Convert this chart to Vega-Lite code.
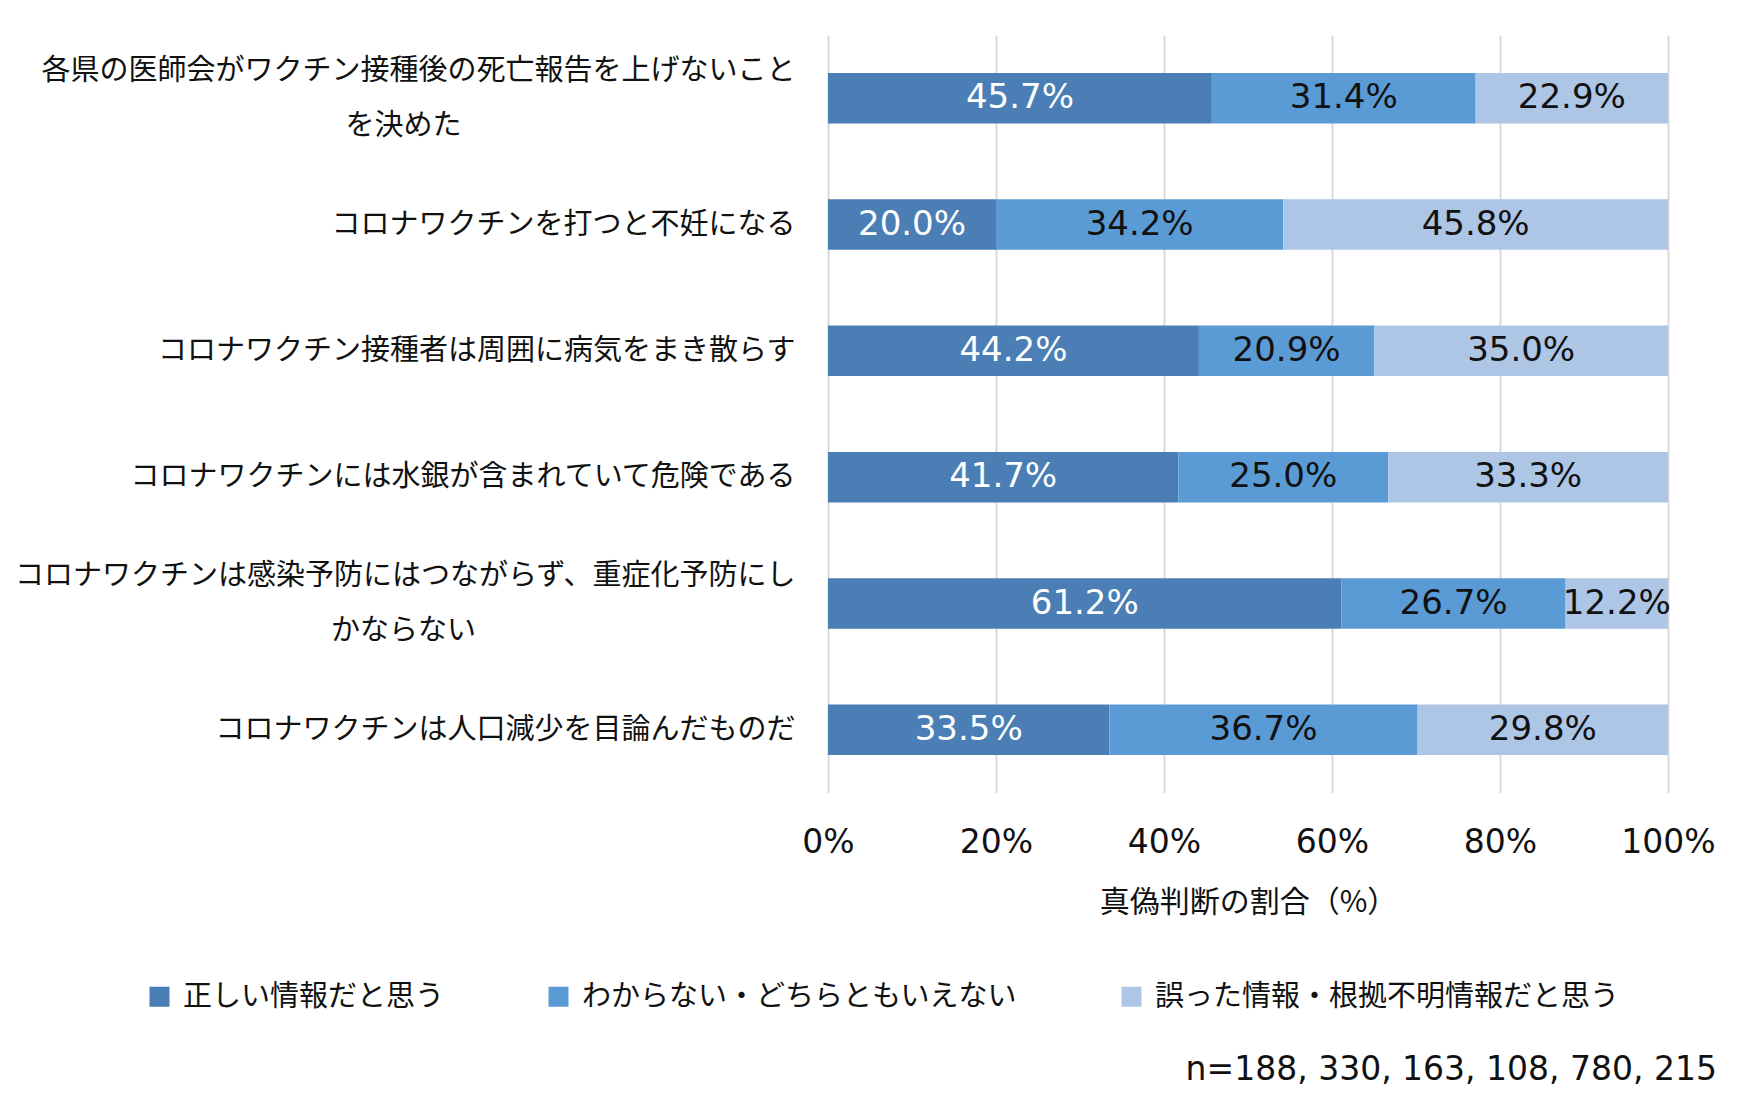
{
  "$schema": "https://vega.github.io/schema/vega-lite/v6.json",
  "width": 840,
  "height": 758,
  "autosize": {"type": "none"},
  "padding": {"left": 828, "top": 35, "right": 72, "bottom": 314},
  "background": "white",
  "config": {
    "view": {"stroke": null},
    "axis": {"labelColor": "#111", "titleColor": "#111"}
  },
  "title": {
    "text": "n=188, 330, 163, 108, 780, 215",
    "orient": "bottom",
    "anchor": "end",
    "frame": "group",
    "font": "DejaVu Sans",
    "fontSize": 33,
    "fontWeight": "normal",
    "color": "#111",
    "dx": 49,
    "offset": 42
  },
  "data": {
    "values": [
      {"q": "各県の医師会がワクチン接種後の死亡報告を上げないこと|を決めた", "cat": "正しい情報だと思う", "k": 1, "v": 0.457},
      {"q": "各県の医師会がワクチン接種後の死亡報告を上げないこと|を決めた", "cat": "わからない・どちらともいえない", "k": 2, "v": 0.314},
      {"q": "各県の医師会がワクチン接種後の死亡報告を上げないこと|を決めた", "cat": "誤った情報・根拠不明情報だと思う", "k": 3, "v": 0.229},
      {"q": "コロナワクチンを打つと不妊になる", "cat": "正しい情報だと思う", "k": 1, "v": 0.200},
      {"q": "コロナワクチンを打つと不妊になる", "cat": "わからない・どちらともいえない", "k": 2, "v": 0.342},
      {"q": "コロナワクチンを打つと不妊になる", "cat": "誤った情報・根拠不明情報だと思う", "k": 3, "v": 0.458},
      {"q": "コロナワクチン接種者は周囲に病気をまき散らす", "cat": "正しい情報だと思う", "k": 1, "v": 0.442},
      {"q": "コロナワクチン接種者は周囲に病気をまき散らす", "cat": "わからない・どちらともいえない", "k": 2, "v": 0.209},
      {"q": "コロナワクチン接種者は周囲に病気をまき散らす", "cat": "誤った情報・根拠不明情報だと思う", "k": 3, "v": 0.350},
      {"q": "コロナワクチンには水銀が含まれていて危険である", "cat": "正しい情報だと思う", "k": 1, "v": 0.417},
      {"q": "コロナワクチンには水銀が含まれていて危険である", "cat": "わからない・どちらともいえない", "k": 2, "v": 0.250},
      {"q": "コロナワクチンには水銀が含まれていて危険である", "cat": "誤った情報・根拠不明情報だと思う", "k": 3, "v": 0.333},
      {"q": "コロナワクチンは感染予防にはつながらず、重症化予防にし|かならない", "cat": "正しい情報だと思う", "k": 1, "v": 0.612},
      {"q": "コロナワクチンは感染予防にはつながらず、重症化予防にし|かならない", "cat": "わからない・どちらともいえない", "k": 2, "v": 0.267},
      {"q": "コロナワクチンは感染予防にはつながらず、重症化予防にし|かならない", "cat": "誤った情報・根拠不明情報だと思う", "k": 3, "v": 0.122},
      {"q": "コロナワクチンは人口減少を目論んだものだ", "cat": "正しい情報だと思う", "k": 1, "v": 0.335},
      {"q": "コロナワクチンは人口減少を目論んだものだ", "cat": "わからない・どちらともいえない", "k": 2, "v": 0.367},
      {"q": "コロナワクチンは人口減少を目論んだものだ", "cat": "誤った情報・根拠不明情報だと思う", "k": 3, "v": 0.298}
    ]
  },
  "layer": [
    {
      "mark": {"type": "bar"},
      "encoding": {
        "y": {
          "field": "q",
          "type": "nominal",
          "sort": null,
          "scale": {"paddingInner": 0.6, "paddingOuter": 0.3},
          "axis": {
            "title": null,
            "orient": "left",
            "domain": false,
            "ticks": false,
            "labelFont": "Noto Sans CJK JP",
            "labelFontSize": 29,
            "labelLimit": 0,
            "labelPadding": 33,
            "labelAlign": "right",
            "labelBaseline": "middle",
            "labelOffset": {
              "condition": {"test": "indexof(datum.value, '|') >= 0", "value": -27.5},
              "value": 0
            },
            "labelExpr": "split(datum.value, '|')[0]"
          }
        },
        "x": {
          "field": "v",
          "type": "quantitative",
          "stack": "normalize",
          "scale": {"domain": [0, 1], "nice": false},
          "axis": {
            "values": [0, 0.2, 0.4, 0.6, 0.8, 1],
            "format": ".0%",
            "domain": false,
            "ticks": false,
            "grid": true,
            "gridColor": "#d9d9d9",
            "gridWidth": 2,
            "labelFont": "DejaVu Sans",
            "labelFontSize": 33,
            "labelPadding": 33,
            "labelFlush": false,
            "title": "真偽判断の割合（%）",
            "titleFont": "Noto Sans CJK JP",
            "titleFontSize": 30,
            "titleFontWeight": "normal",
            "titlePadding": 28
          }
        },
        "color": {
          "field": "cat",
          "type": "nominal",
          "scale": {
            "domain": ["正しい情報だと思う", "わからない・どちらともいえない", "誤った情報・根拠不明情報だと思う"],
            "range": ["#4a7eb4", "#5b9bd5", "#adc6e6"]
          },
          "legend": {
            "title": null,
            "orient": "none",
            "direction": "horizontal",
            "legendX": -683,
            "legendY": 947,
            "padding": 0,
            "symbolType": "square",
            "symbolSize": 400,
            "symbolStrokeWidth": 0,
            "labelFont": "Noto Sans CJK JP",
            "labelFontSize": 29,
            "labelColor": "#111",
            "labelLimit": 0,
            "labelOffset": 9,
            "columnPadding": 99
          }
        },
        "order": {"field": "k", "type": "quantitative"}
      }
    },
    {
      "mark": {"type": "text", "font": "DejaVu Sans", "fontSize": 34, "baseline": "middle", "align": "center"},
      "encoding": {
        "y": {
          "field": "q",
          "type": "nominal",
          "sort": null,
          "axis": {
            "title": null,
            "orient": "left",
            "domain": false,
            "ticks": false,
            "grid": false,
            "labelFont": "Noto Sans CJK JP",
            "labelFontSize": 29,
            "labelLimit": 0,
            "labelPadding": 425,
            "labelAlign": "center",
            "labelBaseline": "middle",
            "labelOffset": 27.5,
            "labelExpr": "indexof(datum.value, '|') >= 0 ? split(datum.value, '|')[1] : ''"
          }
        },
        "x": {
          "field": "v",
          "type": "quantitative",
          "stack": "normalize",
          "bandPosition": 0.5
        },
        "detail": {"field": "cat", "type": "nominal"},
        "order": {"field": "k", "type": "quantitative"},
        "text": {"field": "v", "type": "quantitative", "format": ".1%"},
        "color": {
          "condition": {"test": "datum.cat === '正しい情報だと思う'", "value": "#ffffff"},
          "value": "#111111"
        }
      }
    }
  ],
  "resolve": {"axis": {"y": "independent"}}
}
